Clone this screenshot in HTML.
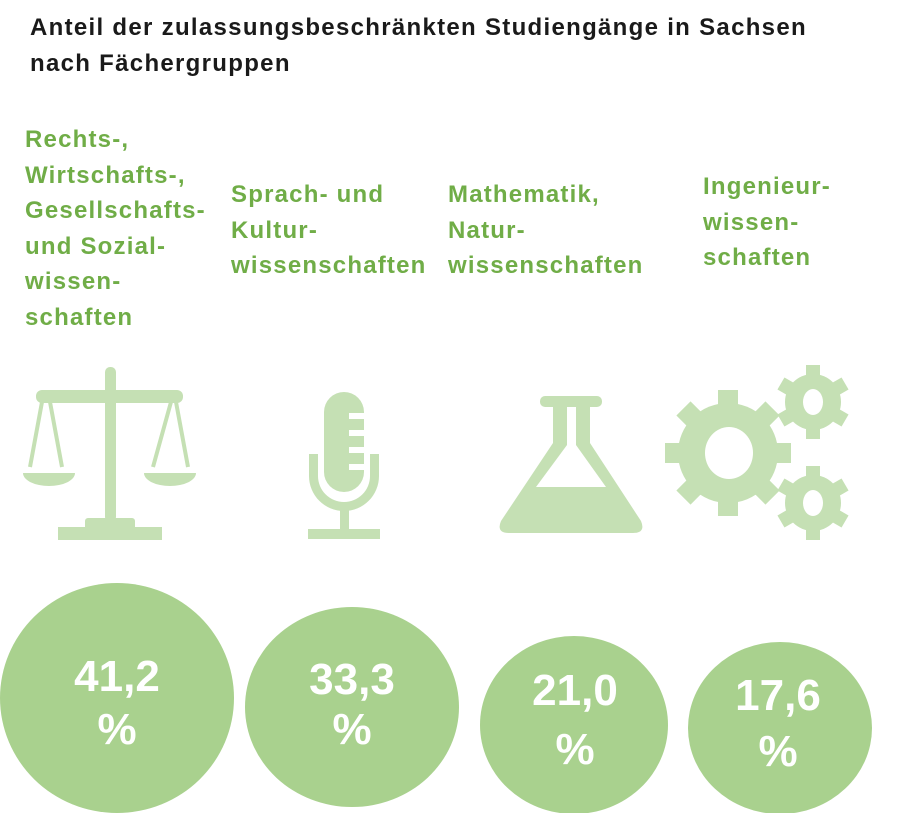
<!DOCTYPE html>
<html><head><meta charset="utf-8"><style>
body{margin:0;background:#fff;width:916px;height:813px;overflow:hidden;position:relative;font-family:"Liberation Sans",sans-serif}
.t{position:absolute;left:30px;top:10px;font-size:24px;font-weight:bold;color:#1a1a1a;line-height:36px;letter-spacing:1.3px;white-space:nowrap}
.l{position:absolute;font-size:24px;font-weight:bold;color:#70ad47;line-height:35.5px;letter-spacing:1.2px;white-space:nowrap}
</style></head><body>
<div class="t">Anteil der zulassungsbeschränkten Studiengänge in Sachsen<br>nach Fächergruppen</div>
<div class="l" style="left:25px;top:122px">Rechts-,<br>Wirtschafts-,<br>Gesellschafts-<br>und Sozial-<br>wissen-<br>schaften</div>
<div class="l" style="left:231px;top:177px">Sprach- und<br>Kultur-<br>wissenschaften</div>
<div class="l" style="left:448px;top:177px">Mathematik,<br>Natur-<br>wissenschaften</div>
<div class="l" style="left:703px;top:169px">Ingenieur-<br>wissen-<br>schaften</div>
<svg width="916" height="813" style="position:absolute;left:0;top:0">
<g fill="#c5e0b4" stroke="none">
<rect x="105" y="367" width="11" height="155" rx="5"/>
<rect x="36" y="390" width="147" height="13" rx="6"/>
<circle cx="110" cy="396" r="6"/>
<rect x="58" y="527" width="104" height="13"/>
<rect x="85" y="518" width="50" height="12" rx="3"/>
<path d="M23 473 h52 a26 13 0 0 1 -52 0z M144 473 h52 a26 13 0 0 1 -52 0z"/>
</g>
<g stroke="#c5e0b4" stroke-width="4" fill="none">
<path d="M42 402 L30 467 M50 402 L62 467 M171 402 L153 467 M176 402 L188 467"/>
</g>
<g fill="#c5e0b4">
<rect x="324" y="392" width="40" height="100" rx="20"/>
<path d="M309 454 h9 v22 a26 26 0 0 0 52 0 v-22 h9 v22 a35 35 0 0 1 -70 0z"/>
<rect x="340" y="506" width="9" height="26"/>
<rect x="308" y="529" width="72" height="10"/>
</g>
<g fill="#fff"><rect x="349" y="413" width="15" height="6"/><rect x="349" y="430" width="15" height="6"/><rect x="349" y="447" width="15" height="6"/><rect x="349" y="464" width="15" height="6"/></g>
<g fill="#c5e0b4">
<rect x="540" y="396" width="62" height="11" rx="5"/>
<path d="M553 407 h37 v36 l51 78 q5 12 -8 12 h-124 q-13 0 -8 -12 l52 -78z"/>
</g>
<path d="M567 407 h9 v38 l30 42 h-70 l31 -42z" fill="#fff"/>
<g fill="#c5e0b4">
<circle cx="728" cy="453" r="50"/>
<g transform="translate(728 453)">
<rect x="-10" y="-63" width="20" height="126"/>
<rect x="-10" y="-63" width="20" height="126" transform="rotate(45)"/>
<rect x="-10" y="-63" width="20" height="126" transform="rotate(90)"/>
<rect x="-10" y="-63" width="20" height="126" transform="rotate(135)"/>
</g>
<g transform="translate(813 402)"><circle r="28"/>
<rect x="-7" y="-37" width="14" height="74"/><rect x="-7" y="-37" width="14" height="74" transform="rotate(60)"/><rect x="-7" y="-37" width="14" height="74" transform="rotate(120)"/></g>
<g transform="translate(813 503)"><circle r="28"/>
<rect x="-7" y="-37" width="14" height="74"/><rect x="-7" y="-37" width="14" height="74" transform="rotate(60)"/><rect x="-7" y="-37" width="14" height="74" transform="rotate(120)"/></g>
</g>
<g fill="#fff"><ellipse cx="729" cy="453" rx="24" ry="26"/><ellipse cx="813" cy="402" rx="10" ry="13"/><ellipse cx="813" cy="503" rx="10" ry="13"/></g>
<g fill="#a9d18e">
<ellipse cx="117" cy="698" rx="117" ry="115"/>
<ellipse cx="352" cy="707" rx="107" ry="100"/>
<ellipse cx="574" cy="725" rx="94" ry="89"/>
<ellipse cx="780" cy="728" rx="92" ry="86"/>
</g>
<g fill="#fff" font-family="Liberation Sans, sans-serif" font-weight="bold" font-size="44" text-anchor="middle">
<text x="117" y="691">41,2</text><text x="117" y="744">%</text>
<text x="352" y="694">33,3</text><text x="352" y="744">%</text>
<text x="575" y="705">21,0</text><text x="575" y="764">%</text>
<text x="778" y="710">17,6</text><text x="778" y="766">%</text>
</g>
</svg>
</body></html>
